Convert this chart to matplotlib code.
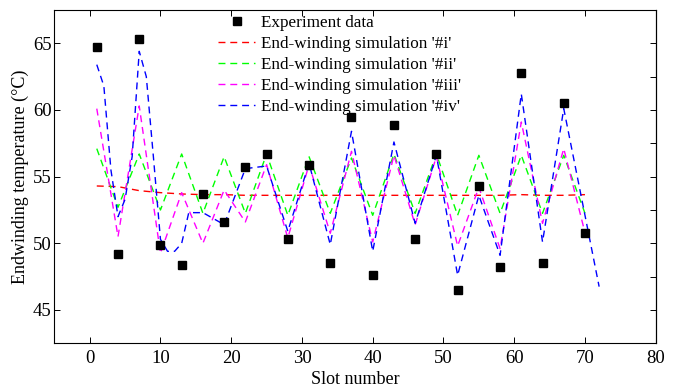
import matplotlib
matplotlib.use("Agg")
import matplotlib.pyplot as plt

plt.rcParams['font.family'] = ['Liberation Serif', 'DejaVu Serif']
plt.rcParams['mathtext.fontset'] = 'stix'

# Experiment data
exp_slots = [1, 4, 7, 10, 13, 16, 19, 22, 25, 28, 31, 34, 37, 40, 43, 46, 49, 52, 55, 58, 61, 64, 67, 70]
exp_temp = [64.7, 49.2, 65.3, 49.9, 48.4, 53.7, 51.6, 55.7, 56.7, 50.3, 55.9, 48.5,
            59.5, 47.6, 58.9, 50.3, 56.7, 46.5, 54.3, 48.2, 62.8, 48.5, 60.5, 50.8]

# Simulation #i (red)
sim1_slots = [1, 4, 7, 10, 13, 16, 19, 22, 25, 28, 31, 34, 37, 40, 43, 46, 49, 52, 55, 58, 61, 64, 67, 70]
sim1_temp = [54.3, 54.25, 53.95, 53.8, 53.7, 53.65, 53.65, 53.6, 53.6, 53.6, 53.6, 53.6,
             53.6, 53.6, 53.6, 53.6, 53.6, 53.6, 53.6, 53.6, 53.65, 53.6, 53.6, 53.65]

# Simulation #ii (green)
sim2_slots = [1, 4, 7, 10, 13, 16, 19, 22, 25, 28, 31, 34, 37, 40, 43, 46, 49, 52, 55, 58, 61, 64, 67, 70]
sim2_temp = [57.1, 52.7, 56.7, 52.5, 56.7, 52.25, 56.5, 52.25, 56.7, 52.1, 56.5, 52.25,
             56.4, 52.1, 56.7, 52.25, 56.7, 52.1, 56.6, 52.25, 56.6, 52.25, 56.6, 52.25]

# Simulation #iii (magenta)
sim3_slots = [1, 4, 7, 10, 13, 16, 19, 22, 25, 28, 31, 34, 37, 40, 43, 46, 49, 52, 55, 58, 61, 64, 67, 70]
sim3_temp = [60.1, 50.5, 60.3, 49.25, 53.8, 50.0, 54.0, 51.6, 55.9, 50.4, 55.9, 50.75,
             56.9, 50.1, 56.6, 51.4, 56.5, 49.8, 54.2, 49.6, 59.1, 51.5, 57.1, 50.8]

# Simulation #iv (blue)
sim4_slots = [1, 2, 3, 4, 5, 6, 7, 8, 9, 10, 11, 12, 13, 14, 16, 19, 22, 25, 28, 31, 34, 37,
              40, 43, 46, 49, 52, 55, 58, 61, 64, 67, 70, 72]
sim4_temp = [63.4, 61.8, 55.5, 52.0, 53.3, 56.5, 64.4, 62.5, 56.5, 50.3, 49.4, 49.4, 50.0, 52.3,
             52.3, 51.4, 55.6, 55.8, 50.9, 56.0, 49.9, 58.4, 49.4, 57.6, 51.5, 56.6, 47.6,
             53.6, 49.1, 61.2, 50.1, 60.1, 52.1, 46.75]

labels = ["Experiment data",
          "End-winding simulation '#i'",
          "End-winding simulation '#ii'",
          "End-winding simulation '#iii'",
          "End-winding simulation '#iv'"]

fig = plt.figure(figsize=(6.74, 3.87), dpi=100)
ax = fig.add_axes([0.0806, 0.1129, 0.8923, 0.8613])

dash = (0, (5, 3.5))
lw = 1.0
ax.plot(exp_slots, exp_temp, linestyle='none', marker='s', color='black', markersize=5.8,
        label=labels[0], zorder=5)
ax.plot(sim1_slots, sim1_temp, color='#ff0000', lw=lw, linestyle=dash, label=labels[1])
ax.plot(sim2_slots, sim2_temp, color='#00ff00', lw=lw, linestyle=dash, label=labels[2])
ax.plot(sim3_slots, sim3_temp, color='#ff00ff', lw=lw, linestyle=dash, label=labels[3])
ax.plot(sim4_slots, sim4_temp, color='#0000ff', lw=lw, linestyle=dash, label=labels[4])

ax.set_xlim(-5, 80)
ax.set_ylim(42.5, 67.5)
ax.set_xticks(range(0, 81, 10))
ax.set_yticks([45, 50, 55, 60, 65])
ax.tick_params(direction='in', top=True, right=False, length=4, width=0.7, labelsize=13.5,
               colors='black')
ax.tick_params(axis='x', pad=5)
ax.tick_params(axis='y', pad=2)
sec = ax.secondary_yaxis('right')
sec.set_yticks([45, 47.5, 50, 52.5, 55, 57.5, 60, 62.5, 65])
sec.tick_params(direction='in', length=4, width=0.7, labelright=False)
for sp in ax.spines.values():
    sp.set_linewidth(0.8)
sec.spines['right'].set_linewidth(0.8)

ax.set_xlabel("Slot number", fontsize=13, labelpad=3)
ax.set_ylabel("Endwinding temperature (°C)", fontsize=13, labelpad=3)

leg = ax.legend(loc='upper left', bbox_to_anchor=(0.3005, 1.0), bbox_transform=fig.transFigure,
                frameon=False, fontsize=12.3, handlelength=2.2, handletextpad=0.3,
                labelspacing=0.28, borderpad=0.4)

fig.savefig("out.png", dpi=100)
